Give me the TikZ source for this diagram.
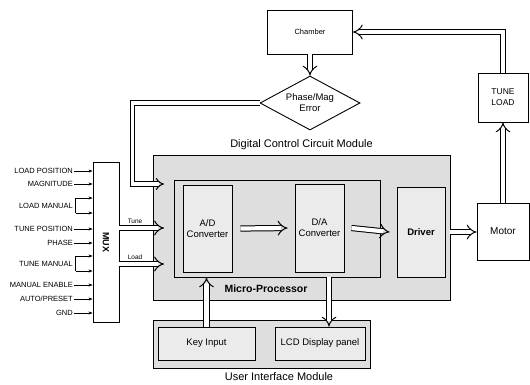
\documentclass[tikz,border=0pt]{standalone}
\usepackage{fontspec}
\setmainfont{Liberation Sans}
\usetikzlibrary{positioning,arrows.meta,shapes.geometric}

\begin{document}
\begin{tikzpicture}[x=1pt, y=-1pt, >={Stealth[length=4pt]},
  box/.style={draw, line width=0.9pt, fill=white, inner sep=1pt, align=center, font=\fontsize{9.5}{11}\selectfont},
  modbox/.style={box, fill=black!13},
  inbox/.style={box, fill=black!8},
  dbl/.style={double, double distance=4.2pt, line width=1pt, -{Implies}},
  inp/.style={anchor=east, inner sep=1pt, font=\fontsize{7.5}{8}\selectfont},
  sml/.style={font=\fontsize{6.5}{7}\selectfont},
  ttl/.style={font=\fontsize{11}{12}\selectfont}]
  \useasboundingbox (0,0) rectangle (530,384);

  % plant side
  \node[box, minimum width=85pt, minimum height=44pt, font=\fontsize{7.5}{9}\selectfont] (ch) at (310,32) {Chamber};
  \node[box, diamond, aspect=1.85, inner sep=0pt, minimum width=100pt, minimum height=54pt] (err) at (310,103) {Phase/Mag\\Error};
  \node[box, minimum width=50pt, minimum height=49pt, font=\fontsize{8.5}{11}\selectfont] (tl) at (503,97.5) {TUNE\\LOAD};
  \node[box, minimum width=52pt, minimum height=57pt, font=\fontsize{10}{12}\selectfont] (mo) at (503,231.5) {Motor};

  % control module
  \node[modbox, minimum width=297pt, minimum height=145pt] (dccm) at (301.5,227.5) {};
  \node[ttl, above=1pt of dccm] (dccmlbl) {Digital Control Circuit Module};
  \node[modbox, minimum width=206pt, minimum height=97pt] (mp) at (277,228.5) {};
  \node[font=\bfseries\fontsize{10.5}{12}\selectfont] (mplbl) at (266,289) {Micro-Processor};
  \node[inbox, minimum width=49pt, minimum height=87pt] (ad) at (207.5,228.5) {A/D\\Converter};
  \node[inbox, minimum width=49pt, minimum height=88pt] (da) at (319.5,228) {D/A\\Converter};
  \node[inbox, minimum width=48pt, minimum height=90pt, font=\bfseries\fontsize{9.5}{11}\selectfont] (drv) at (421,232) {Driver};

  % user interface
  \node[modbox, minimum width=217pt, minimum height=48pt] (ui) at (261.5,344) {};
  \node[inbox, minimum width=97pt, minimum height=33pt] (ki) at (206.5,343.5) {Key Input};
  \node[inbox, minimum width=90pt, minimum height=33pt] (lcd) at (320,343.5) {LCD Display panel};
  \node[ttl] (uilbl) at (279,377) {User Interface Module};

  % mux and its inputs
  \node[box, minimum width=26pt, minimum height=160pt] (mux) at (106,242) {};
  \node[rotate=-90, font=\bfseries\fontsize{9}{10}\selectfont] at (mux.center) {MUX};
  \foreach \txt/\yy/\nm in {LOAD POSITION/171/lp, MAGNITUDE/184/mg, TUNE POSITION/229/tp, PHASE/243/ph, MANUAL ENABLE/285/me, {AUTO/PRESET}/299/ap, GND/313/gnd} {
    \node[inp] (\nm) at (74,\yy) {\txt};
    \draw[->] (\nm.east) -- (\nm.east -| mux.west);
  }
  \foreach \txt/\yy/\nm in {LOAD MANUAL/206/lm, TUNE MANUAL/264/tm} {
    \node[inp] (\nm) at (74,\yy) {\txt};
    \path (\nm.east) ++(1.5,-8) coordinate (\nm a) ++(0,15) coordinate (\nm b);
    \draw (\nm a) -- (\nm b);
    \draw[->] (\nm a) -- (\nm a -| mux.west);
    \draw[->] (\nm b) -- (\nm b -| mux.west);
  }

  % hollow arrows
  \coordinate (fbin) at (164,184);
  \coordinate (tunein) at (164,228);
  \coordinate (loadin) at (164,264);
  \coordinate (lcdin) at ([xshift=9pt]lcd.north);
  \draw[dbl] (tl.north) |- (ch.east);
  \draw[dbl] (ch.south) -- (err.north);
  \draw[dbl, double distance=3.2pt] (err.west) -- ++(-127,0) |- (fbin);
  \draw[dbl] (tunein -| mux.east) -- node[sml, above=1pt, pos=0.35] {Tune} (tunein);
  \draw[dbl] (loadin -| mux.east) -- node[sml, above=1pt, pos=0.35] {Load} (loadin);
  \draw[dbl] ([xshift=8pt]ad.east) -- ([xshift=-7pt]da.west);
  \draw[dbl] ([xshift=7pt]da.east) -- ([xshift=-7pt]drv.west);
  \draw[dbl] (dccm.east |- drv.east) -- (mo.west |- drv.east);
  \draw[dbl] (mo.north) -- (tl.south);
  \draw[dbl] (ki.north) -- (ki.north |- mp.south);
  \draw[dbl] (lcdin |- mp.south) -- (lcdin);
\end{tikzpicture}
\end{document}
